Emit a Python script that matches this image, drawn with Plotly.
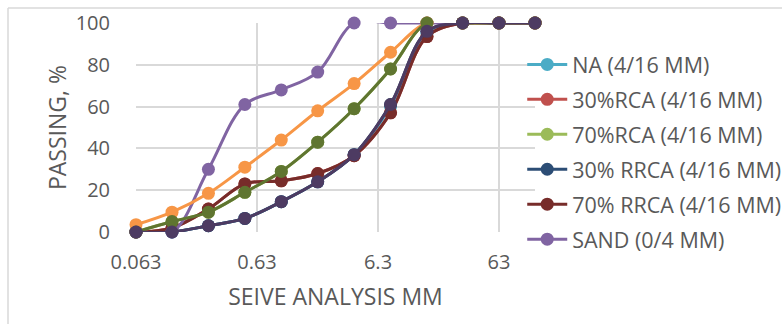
import plotly.graph_objects as go
import math

sieve_mm = [0.063, 0.125, 0.25, 0.5, 1, 2, 4, 8, 16, 31.5, 63, 125]

na_4_16 = [0, 0, 3, 6.5, 14.5, 24, 37, 60, 95, 100, 100, 100]
rca30_4_16 = [0, 2, 11, 23, 24.5, 28, 36.5, 57, 93.5, 100, 100, 100]
rca70_4_16 = [0, 5, 9.5, 19, 29, 43, 59, 78, 100, 100, 100, 100]
rrca30_4_16 = [0, 0, 3, 6.5, 14.5, 24, 37, 61, 96, 100, 100, 100]
rrca70_4_16 = [0, 2, 11, 23, 24.5, 28, 36.5, 57, 93.5, 100, 100, 100]
sand_0_4 = [0, 0, 30, 61, 68, 76.5, 100, 100, 100, 100, 100, 100]
series_g = [3.5, 9.5, 18.5, 31, 44, 58, 71, 86, 100, 100, 100, 100]
series_h = [0, 5, 9.5, 19, 29, 43, 59, 78, 100, 100, 100, 100]
series_i = [0, 0, 3, 6.5, 14.5, 24, 37, 61, 96, 100, 100, 100]

x_tick_vals = [0.063, 0.63, 6.3, 63]
x_tick_text = ["0.063", "0.63", "6.3", "63"]
y_tick_vals = [0, 20, 40, 60, 80, 100]

series = [
    ("NA (4/16 MM)", na_4_16, "#4BACC6", True),
    ("30%RCA (4/16 MM)", rca30_4_16, "#C0504D", True),
    ("70%RCA (4/16 MM)", rca70_4_16, "#9BBB59", True),
    ("30% RRCA (4/16 MM)", rrca30_4_16, "#2C4D75", True),
    ("70% RRCA (4/16 MM)", rrca70_4_16, "#772C2A", True),
    ("SAND (0/4 MM)", sand_0_4, "#8064A2", True),
    ("Series 7", series_g, "#F79646", False),
    ("Series 8", series_h, "#5F7530", False),
    ("Series 9", series_i, "#4D3B62", False),
]

FONT = "Open Sans"
GREY = "#595959"

fig = go.Figure()
for i, (name, vals, col, show) in enumerate(series):
    fig.add_trace(go.Scatter(
        x=sieve_mm, y=vals, name=name, mode="lines+markers",
        line=dict(color=col, width=3, shape="spline", smoothing=1),
        marker=dict(color=col, size=13),
        showlegend=show, legendgroup="g%d" % i,
        cliponaxis=False,
    ))

W, H = 782, 324
L, R, T, B = 136, 535, 23, 232

fig.update_layout(
    width=W, height=H,
    margin=dict(l=L, r=W - R, t=T, b=H - B, autoexpand=False),
    paper_bgcolor="white", plot_bgcolor="white",
    font=dict(family=FONT, color=GREY),
    legend=dict(
        x=0.968, xanchor="left", y=0.90, yanchor="top",
        bgcolor="rgba(0,0,0,0)", font=dict(size=21.5, color=GREY, family=FONT),
        traceorder="grouped", tracegroupgap=4, itemwidth=40,
        maxheight=300,
    ),
    xaxis=dict(
        type="log", range=[math.log10(0.063), math.log10(125)],
        tickvals=x_tick_vals, ticktext=x_tick_text,
        showgrid=True, gridcolor="#D9D9D9", gridwidth=1.5,
        ticks="outside", ticklen=12, tickcolor="rgba(0,0,0,0)",
        tickfont=dict(size=20, color=GREY),
        showline=False, zeroline=False, automargin=False,
        title=dict(text="SEIVE ANALYSIS MM", font=dict(size=23, color=GREY), standoff=14),
    ),
    yaxis=dict(
        range=[0, 100], tickvals=y_tick_vals,
        showgrid=True, gridcolor="#D9D9D9", gridwidth=1.5,
        ticks="outside", ticklen=21, tickcolor="rgba(0,0,0,0)",
        tickfont=dict(size=20, color=GREY),
        showline=False, zeroline=False, automargin=False,
        title=dict(text="PASSING, %", font=dict(size=23, color=GREY), standoff=2),
    ),
    shapes=[
        dict(type="line", xref="paper", yref="paper",
             x0=(8 - L) / (R - L), x1=(W - L) / (R - L),
             y0=(B - 8) / (B - T), y1=(B - 8) / (B - T),
             line=dict(color="#D9D9D9", width=1.5)),
        dict(type="line", xref="paper", yref="paper",
             x0=(8 - L) / (R - L), x1=(8 - L) / (R - L),
             y0=(B - 8) / (B - T), y1=(B - H) / (B - T),
             line=dict(color="#D9D9D9", width=1.5)),
    ],
)

fig.write_html("out.html", config={"displayModeBar": False},
               post_script="document.body.style.margin='0';")
